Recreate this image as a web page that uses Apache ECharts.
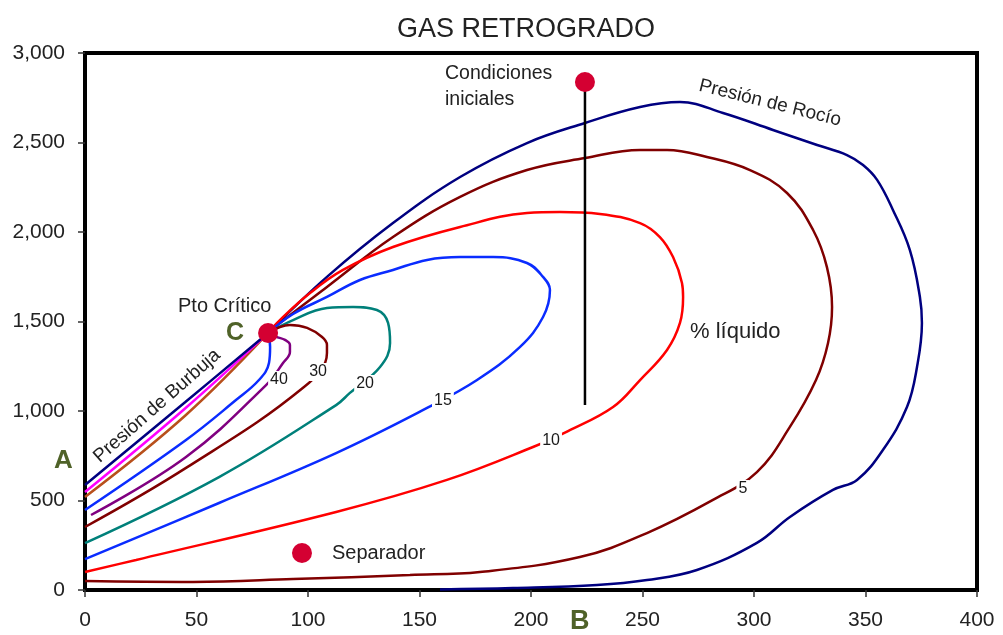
<!DOCTYPE html>
<html>
<head>
<meta charset="utf-8">
<script src="https://cdn.jsdelivr.net/npm/echarts@6/dist/echarts.min.js"></script>
<style>
  html, body { margin: 0; padding: 0; background: #fff; }
  #chart { width: 1003px; height: 635px; }
</style>
</head>
<body>
<div id="chart"></div>
<script>
// values, [x, pressure]
const critPoint = [82.1, 1436]
const initialPoint = [224.2, 2838]
const initialLineEnd = [224.2, 1034]
const separatorPoint = [97.3, 207]

const bubbleCurve = [[0, 587], [45, 1050], [82.1, 1436]]
const pinkCurve = [[0, 547], [45, 1015], [82.1, 1436]]
const orangeCurve = [[0, 520], [45, 975], [82.1, 1436]]
const blueUpper = [[0, 447], [45.3, 838], [67.7, 1061], [78, 1173], [82.5, 1268], [83, 1358], [82.1, 1436]]
const curve40 = [[2.7, 419], [45.3, 743], [81.2, 1145], [88.8, 1268], [91.9, 1330], [91.9, 1369], [89.7, 1397], [86.1, 1413], [82.1, 1436]]
const curve30 = [[0, 352], [45.3, 682], [98.2, 1134], [108.5, 1324], [108.5, 1369], [106.3, 1413], [99.6, 1464], [91.9, 1480], [82.1, 1436]]
const curve20 = [[0, 262], [60.1, 631], [112.6, 1033], [118.8, 1101], [132.3, 1246], [136.8, 1380], [135.9, 1492], [130.9, 1564], [120.2, 1581], [108.5, 1575], [93.3, 1508], [82.1, 1436]]
const curve15 = [[0, 173], [60.1, 486], [112.6, 765], [153.4, 1017], [175.8, 1173], [195.1, 1358], [205.4, 1525], [208.5, 1676], [205.4, 1749], [198.2, 1827], [183, 1860], [168.2, 1860], [153.4, 1844], [138.1, 1788], [123.3, 1732], [108.5, 1637], [93.3, 1542], [82.1, 1436]]
const curve10 = [[0, 101], [22.9, 168], [112.6, 436], [162.3, 615], [200.9, 799], [216.6, 888], [236.8, 1022], [248.9, 1173], [261, 1341], [266.8, 1492], [268.2, 1637], [267.7, 1715], [263.7, 1860], [257.8, 1972], [248.9, 2050], [230.9, 2101], [213, 2112], [198.2, 2106], [168.2, 2028], [138.1, 1916], [115.7, 1788], [100.9, 1659], [87.4, 1508], [82.1, 1436]]
const curve5 = [[0, 50], [48.4, 45], [93.3, 61], [145.7, 84], [177.1, 101], [221.9, 184], [252, 318], [281.6, 503], [301.3, 659], [316.1, 911], [327.8, 1173], [333.2, 1380], [335, 1581], [332.7, 1804], [326.5, 2011], [314.8, 2218], [298.2, 2346], [278.9, 2419], [261, 2458], [248.9, 2458], [224.2, 2413], [198.2, 2346], [168.2, 2196], [138.1, 1972], [108.5, 1693], [87.4, 1492], [82.1, 1436]]
const dewCurve = [[159.2, 3], [191.9, 11], [229.6, 28], [252, 56], [274.4, 112], [301.3, 263], [316.1, 408], [335.4, 559], [346.2, 615], [357.8, 782], [368.6, 1022], [373.1, 1246], [375.3, 1492], [374.4, 1637], [369.9, 1899], [362.3, 2123], [355.2, 2291], [348.9, 2374], [341.7, 2430], [328.3, 2486], [308.5, 2570], [286.1, 2665], [266.8, 2726], [248.9, 2698], [224.2, 2609], [198.2, 2497], [168.2, 2307], [138.1, 2050], [108.5, 1749], [82.1, 1436]]

const contourNames = ['40', '30', '20', '15', '10', '5']
const contourLabelPos = [[87, 1173], [104.5, 1218], [125.6, 1151], [160.5, 1056], [209, 832], [295, 564]]

const FONT = 'Liberation Sans, Arial, sans-serif'
const TXT = '#222'
const GREEN = '#4f6228'

const chart = echarts.init(document.getElementById('chart'))

function curve(data, color) {
  return {
    type: 'line',
    data: data,
    smooth: 0.4,
    symbol: 'none',
    lineStyle: { color: color, width: 2.5 },
    z: 2
  }
}

function dot(point) {
  return {
    type: 'scatter',
    data: [point],
    symbolSize: 20,
    itemStyle: { color: '#d40032', opacity: 1 },
    z: 5
  }
}

function note(text, left, top, size) {
  return {
    type: 'text', left: left, top: top,
    style: { text: text, font: size + 'px ' + FONT, fill: TXT }
  }
}

chart.setOption({
  animation: false,
  title: {
    text: 'GAS RETROGRADO',
    left: 392,
    top: 11,
    textStyle: { fontFamily: FONT, fontSize: 27, fontWeight: 'normal', color: TXT }
  },
  grid: {
    left: 85,
    right: 26,
    top: 53,
    bottom: 45,
    show: true,
    borderColor: '#000',
    borderWidth: 4
  },
  xAxis: {
    type: 'value',
    min: 0,
    max: 400,
    interval: 50,
    splitLine: { show: false },
    axisLine: { show: false },
    axisTick: { show: true, length: 7, lineStyle: { color: '#333', width: 1.5 } },
    axisLabel: { fontFamily: FONT, fontSize: 21, color: TXT, margin: 20 }
  },
  yAxis: {
    type: 'value',
    min: 0,
    max: 3000,
    interval: 500,
    splitLine: { show: false },
    axisLine: { show: false },
    axisTick: { show: true, length: 7, lineStyle: { color: '#333', width: 1.5 } },
    axisLabel: {
      fontFamily: FONT, fontSize: 21, color: TXT, margin: 20,
      formatter: v => v.toLocaleString('en-US')
    }
  },
  series: [
    curve(curve5, '#800000'),
    curve(dewCurve, '#000080'),
    curve(curve10, '#ff0000'),
    curve(curve15, '#0a2cff'),
    curve(curve20, '#00807a'),
    curve(curve30, '#800000'),
    curve(curve40, '#800080'),
    curve(blueUpper, '#0a2cff'),
    curve(orangeCurve, '#b8501c'),
    curve(pinkCurve, '#ff00ff'),
    curve(bubbleCurve, '#000080'),
    {
      type: 'line',
      data: [initialPoint, initialLineEnd],
      symbol: 'none',
      lineStyle: { color: '#000', width: 2.5 },
      z: 3
    },
    {
      type: 'scatter',
      data: contourLabelPos.map((p, i) => [p[0], p[1], contourNames[i]]),
      symbolSize: 0,
      itemStyle: { opacity: 1 },
      z: 4,
      label: {
        show: true,
        position: 'inside',
        formatter: p => p.data[2],
        fontFamily: FONT,
        fontSize: 16,
        color: '#1a1a1a',
        opacity: 1,
        backgroundColor: '#fff',
        padding: [1, 2]
      }
    },
    dot(critPoint),
    dot(initialPoint),
    dot(separatorPoint)
  ],
  graphic: [
    note('Condiciones', 445, 64, 19.5),
    note('iniciales', 445, 90, 19.5),
    { type: 'text', x: 770, y: 103, rotation: -0.245, style: { text: 'Presión de Rocío', font: '19px ' + FONT, fill: TXT, align: 'center', verticalAlign: 'middle' } },
    note('% líquido', 690, 321, 22),
    note('Pto Crítico', 178, 296, 20),
    note('Separador', 332, 543, 20),
    { type: 'text', left: 226, top: 321, style: { text: 'C', font: 'bold 25px ' + FONT, fill: GREEN } },
    { type: 'text', left: 54, top: 448, style: { text: 'A', font: 'bold 26px ' + FONT, fill: GREEN } },
    { type: 'text', left: 570, top: 608, style: { text: 'B', font: 'bold 27px ' + FONT, fill: GREEN } },
    { type: 'text', x: 157, y: 406, rotation: 0.72, style: { text: 'Presión de Burbuja', font: '19px ' + FONT, fill: TXT, align: 'center', verticalAlign: 'middle' } }
  ]
})
</script>
</body>
</html>
